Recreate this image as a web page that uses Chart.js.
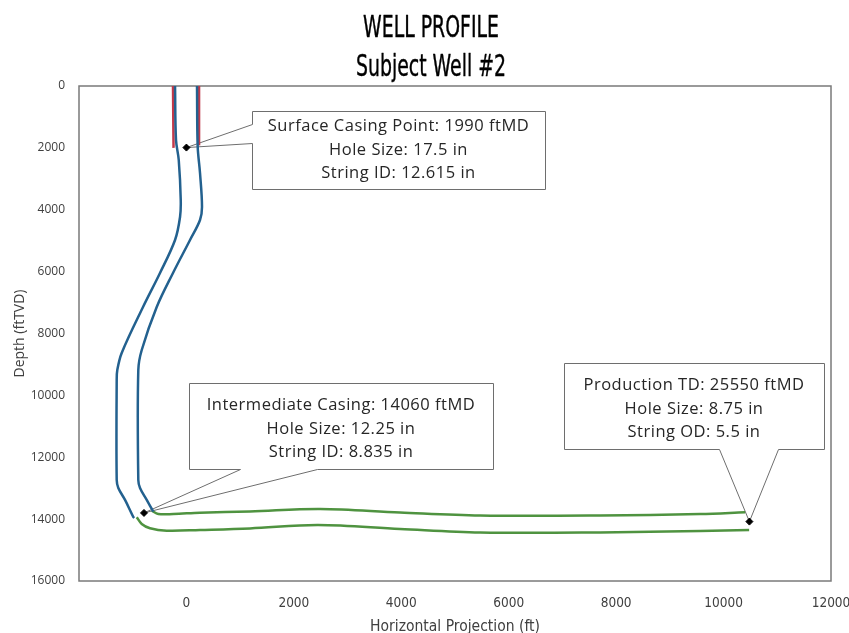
<!DOCTYPE html>
<html>
<head>
<meta charset="utf-8">
<title>Well Profile</title>
<script src="https://cdn.jsdelivr.net/npm/chart.js@4.4.1/dist/chart.umd.min.js"></script>
<style>
  html, body { margin: 0; padding: 0; background: #ffffff; }
  #wrap { width: 849px; height: 633px; }
</style>
</head>
<body>
<div id="wrap"><canvas id="c" width="849" height="633"></canvas></div>
<script>
// ---- Well path data (horizontal projection ft, depth ftTVD) ----
// Surface hole walls
const surfaceLeftX  = [-250, -240];
const surfaceLeftY  = [0, 2000];
const surfaceRightX = [235, 235];
const surfaceRightY = [0, 1920];

// Intermediate hole walls
const interLeftX  = [-212, -194, -143, -106, -119, -212, -492, -808, -1205, -1287, -1298, -1298, -1268, -1143, -989, -970];
const interLeftY  = [0, 1745, 2392, 3684, 4234, 4977, 6044, 7143, 8629, 9179, 9502, 12734, 12993, 13380, 13930, 13962];
const interRightX = [197, 210, 253, 290, 253, 67, -250, -553, -832, -896, -896, -864, -739, -616];
const interRightY = [0, 1972, 2812, 3911, 4331, 4977, 6044, 7143, 8533, 9179, 12734, 12993, 13380, 13760];

// Production (lateral) hole walls
const prodUpperX = [-646, -523, -244, 253, 1184, 2488, 3977, 5467, 7701, 9563, 10401];
const prodUpperY = [13726, 13833, 13833, 13791, 13752, 13671, 13785, 13881, 13881, 13833, 13778];
const prodLowerX = [-925, -832, -678, -367, 253, 1184, 2450, 3977, 5467, 7701, 9563, 10476];
const prodLowerY = [13940, 14156, 14295, 14373, 14350, 14302, 14189, 14318, 14431, 14431, 14383, 14350];

// Casing points
const pointNames   = ['Surface Casing Point', 'Intermediate Casing', 'Production TD'];
const pointMD      = [1990, 14060, 25550];
const pointHole    = [17.5, 12.25, 8.75];
const pointString  = ['String ID', 'String ID', 'String OD'];
const pointSize    = [12.615, 8.835, 5.5];
const markerX      = [0, -790, 10481];
const markerY      = [1990, 13800, 14080];

// Axis ticks and titles
const xTicks = [-2000, 0, 2000, 4000, 6000, 8000, 10000, 12000];
const yTicks = [0, 2000, 4000, 6000, 8000, 10000, 12000, 14000, 16000];
const titleLines = ['WELL PROFILE', 'Subject Well #2'];

const zip = (xs, ys) => xs.map((x, i) => ({ x: x, y: ys[i] }));

const BLUE = '#23618f';
const RED = '#c0394a';
const GREEN = '#4f9340';
const NARROW = "'DejaVu Sans Condensed', 'DejaVu Sans', sans-serif";
const BODY = "'Open Sans', 'Noto Sans', sans-serif";

function wall(data, color) {
  return {
    data: data, showLine: true, borderColor: color, backgroundColor: color,
    borderWidth: 2.5, pointRadius: 0, pointHoverRadius: 0, tension: 0.35,
    cubicInterpolationMode: 'default'
  };
}

// Two-line heading, set in a tall, narrow face with a slightly heavier stroke
const headingPlugin = {
  id: 'heading',
  afterDraw(chart, args, opts) {
    const ctx = chart.ctx;
    ctx.save();
    ctx.fillStyle = '#000000';
    ctx.strokeStyle = '#000000';
    ctx.lineWidth = opts.stroke;
    ctx.lineJoin = 'round';
    ctx.font = opts.size + 'px ' + NARROW;
    ctx.textAlign = 'center';
    ctx.textBaseline = 'alphabetic';
    titleLines.forEach((s, k) => {
      ctx.save();
      ctx.translate(opts.x, opts.baselines[k]);
      ctx.scale(opts.squeeze, 1);
      ctx.fillText(s, 0, 0);
      ctx.strokeText(s, 0, 0);
      ctx.restore();
    });
    ctx.restore();
  }
};

// Plot-area frame
const framePlugin = {
  id: 'frame',
  beforeDatasetsDraw(chart) {
    const a = chart.chartArea, ctx = chart.ctx;
    ctx.save();
    ctx.strokeStyle = '#7a7a7a';
    ctx.lineWidth = 1.5;
    ctx.strokeRect(a.left, a.top, a.right - a.left, a.bottom - a.top);
    ctx.restore();
  }
};

// Callout boxes pointing at the casing markers
const calloutPlugin = {
  id: 'callouts',
  beforeDatasetsDraw(chart, args, opts) {
    const ctx = chart.ctx, xs = chart.scales.x, ys = chart.scales.y;
    opts.items.forEach((it, i) => {
      const px = xs.getPixelForValue(markerX[i]);
      const py = ys.getPixelForValue(markerY[i]);
      const b = it.box;
      ctx.save();
      ctx.fillStyle = '#ffffff';
      ctx.fillRect(b.l, b.t, b.r - b.l, b.b - b.t);
      ctx.strokeStyle = '#6e6e6e';
      ctx.lineWidth = 1;
      ctx.beginPath();
      const L = b.l + 0.5, R = b.r + 0.5, T = b.t + 0.5, B = b.b + 0.5;
      if (it.side === 'left') {
        ctx.moveTo(L, T); ctx.lineTo(R, T); ctx.lineTo(R, B); ctx.lineTo(L, B);
        ctx.lineTo(L, it.g2 + 0.5); ctx.lineTo(px, py); ctx.lineTo(L, it.g1 + 0.5);
        ctx.closePath();
      } else {
        ctx.moveTo(L, T); ctx.lineTo(R, T); ctx.lineTo(R, B); ctx.lineTo(it.g2 + 0.5, B);
        ctx.lineTo(px, py); ctx.lineTo(it.g1 + 0.5, B); ctx.lineTo(L, B);
        ctx.closePath();
      }
      ctx.stroke();
      const lines = [
        pointNames[i] + ': ' + pointMD[i] + ' ftMD',
        'Hole Size: ' + pointHole[i] + ' in',
        pointString[i] + ': ' + pointSize[i] + ' in'
      ];
      ctx.fillStyle = '#262626';
      ctx.font = '16.5px ' + BODY;
      if ('letterSpacing' in ctx) ctx.letterSpacing = '0.5px';
      ctx.textAlign = 'center';
      ctx.textBaseline = 'middle';
      const cx = (b.l + b.r) / 2, cy = (b.t + b.b) / 2 + it.dy;
      lines.forEach((s, k) => ctx.fillText(s, cx, cy + (k - 1) * 23.5));
      ctx.restore();
    });
  }
};

new Chart(document.getElementById('c'), {
  type: 'scatter',
  data: {
    datasets: [
      wall(zip(interLeftX, interLeftY), BLUE),
      wall(zip(interRightX, interRightY), BLUE),
      wall(zip(surfaceLeftX, surfaceLeftY), RED),
      wall(zip(surfaceRightX, surfaceRightY), RED),
      wall(zip(prodUpperX, prodUpperY), GREEN),
      wall(zip(prodLowerX, prodLowerY), GREEN),
      {
        data: zip(markerX, markerY), showLine: false,
        pointStyle: 'rectRot', pointRadius: 3.5, pointHoverRadius: 3.5,
        backgroundColor: '#000000', borderColor: '#000000', borderWidth: 1
      }
    ]
  },
  options: {
    responsive: false,
    animation: false,
    devicePixelRatio: 1,
    layout: { padding: { top: 86, right: 18, left: 0, bottom: 0 } },
    plugins: {
      legend: { display: false },
      tooltip: { enabled: false },
      title: { display: false },
      heading: { x: 431, baselines: [37, 76], size: 30, squeeze: 0.7, stroke: 0.4 },
      callouts: {
        items: [
          { box: { l: 252, t: 111, r: 545, b: 189 }, side: 'left', g1: 124, g2: 143, dy: 0 },
          { box: { l: 189, t: 383, r: 493, b: 469 }, side: 'bottom', g1: 240, g2: 317, dy: 3 },
          { box: { l: 564, t: 363, r: 824, b: 449 }, side: 'bottom', g1: 719, g2: 778, dy: 3 }
        ]
      }
    },
    scales: {
      x: {
        type: 'linear', min: -2000, max: 12000,
        afterBuildTicks: s => { s.ticks = xTicks.map(v => ({ value: v })); },
        afterFit: s => { s.height = 52; s.paddingLeft = 0; s.paddingRight = 0; },
        grid: { display: false, drawTicks: false },
        border: { display: false },
        ticks: {
          padding: 14, color: '#404040',
          font: { family: NARROW, size: 13.5 },
          maxRotation: 0,
          callback: v => (v < 0 ? '' : String(v))
        },
        title: {
          display: true, text: 'Horizontal Projection (ft)', color: '#404040',
          font: { family: NARROW, size: 15.5, lineHeight: 0.8 }, padding: { top: 4, bottom: 0 }
        }
      },
      y: {
        type: 'linear', min: 0, max: 16000, reverse: true,
        afterBuildTicks: s => { s.ticks = yTicks.map(v => ({ value: v })); },
        afterFit: s => { s.width = 79; s.paddingTop = 0; s.paddingBottom = 0; },
        grid: { display: false, drawTicks: false },
        border: { display: false },
        ticks: {
          padding: 14, color: '#404040',
          font: { family: BODY, size: 12 },
          callback: v => String(v)
        },
        title: {
          display: true, text: 'Depth (ftTVD)', color: '#404040',
          font: { family: BODY, size: 14 }, padding: { top: 11.6, bottom: 0 }
        }
      }
    }
  },
  plugins: [framePlugin, calloutPlugin, headingPlugin]
});
</script>
</body>
</html>
